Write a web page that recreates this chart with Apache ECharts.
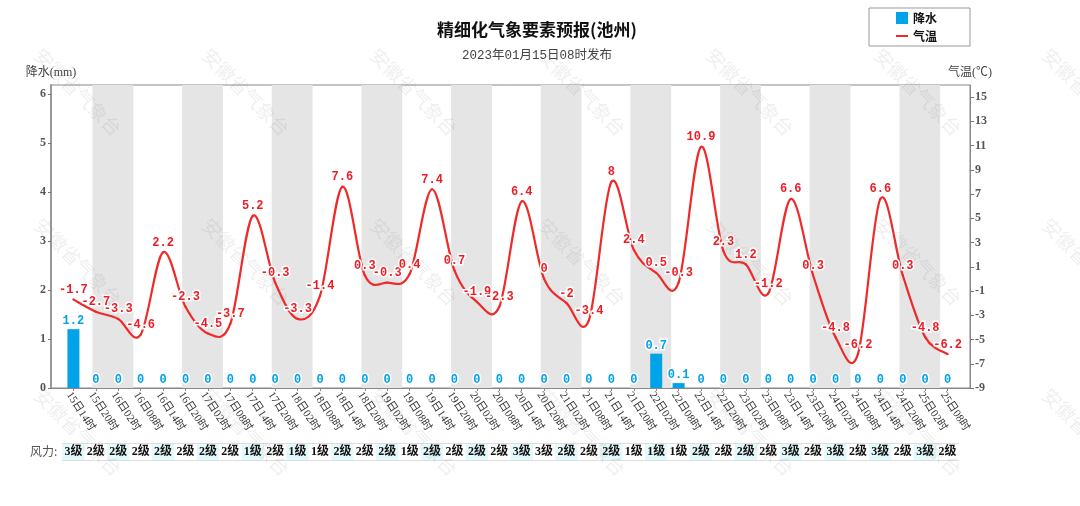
<!DOCTYPE html>
<html><head><meta charset="utf-8">
<style>html,body{margin:0;padding:0;background:#fff}#c{width:1080px;height:506px}</style>
<script src="https://cdn.jsdelivr.net/npm/echarts@6/dist/echarts.min.js"></script>
</head><body><div id="c"></div>
<script>
const categories=["15日14时","15日20时","16日02时","16日08时","16日14时","16日20时","17日02时","17日08时","17日14时","17日20时","18日02时","18日08时","18日14时","18日20时","19日02时","19日08时","19日14时","19日20时","20日02时","20日08时","20日14时","20日20时","21日02时","21日08时","21日14时","21日20时","22日02时","22日08时","22日14时","22日20时","23日02时","23日08时","23日14时","23日20时","24日02时","24日08时","24日14时","24日20时","25日02时","25日08时"];
const rain=[1.2,0,0,0,0,0,0,0,0,0,0,0,0,0,0,0,0,0,0,0,0,0,0,0,0,0,0.7,0.1,0,0,0,0,0,0,0,0,0,0,0,0];
const temp=[-1.7,-2.7,-3.3,-4.6,2.2,-2.3,-4.5,-3.7,5.2,-0.3,-3.3,-1.4,7.6,0.3,-0.3,0.4,7.4,0.7,-1.9,-2.3,6.4,0,-2,-3.4,8,2.4,0.5,-0.3,10.9,2.3,1.2,-1.2,6.6,0.3,-4.8,-6.2,6.6,0.3,-4.8,-6.2];
const wind=[3,2,2,2,2,2,2,2,1,2,1,1,2,2,2,1,2,2,2,2,3,3,2,2,2,1,1,1,2,2,2,2,3,2,3,2,3,2,3,2];
const rainTicks=[0,1,2,3,4,5,6];
const tempTicks=[-9,-7,-5,-3,-1,1,3,5,7,9,11,13,15];
const bandStarts=[0.85,4.85,8.85,12.85,16.85,20.85,24.85,28.85,32.85,36.85];
const bandWidth=1.82;
const serif='"Liberation Serif","Noto Sans CJK SC",serif';
const mono='"Liberation Mono","Noto Sans CJK SC",monospace';
const cjk='"Noto Sans CJK SC",sans-serif';
const RED='#ee2a2a';
const idx=categories.map((_,i)=>i);
const marks=[];
for(let c=0;c<7;c++)for(let r=0;r<3;r++){
  marks.push({type:'text',x:78+168*c,y:92+170*r,rotation:-Math.PI/4,silent:true,z:100,
    style:{text:'安徽省气象台',font:'19px '+cjk,fill:'rgba(110,110,110,0.11)',align:'center',verticalAlign:'middle'}});
}
marks.push({type:'text',x:30,y:451,style:{text:'风力:',font:'12px '+cjk,fill:'#555',verticalAlign:'middle'}});
// temperature curve: one bezier per interval, tangents taken from neighbouring values through the axis scale
function renderCurve(params,api){
  const i=api.value(0);
  if(i>=temp.length-1)return null;
  const clampP=k=>{const c=Math.max(0,Math.min(temp.length-1,k));return api.coord([c,temp[c]]);};
  const p0=clampP(i-1),p1=clampP(i),p2=clampP(i+1),p3=clampP(i+2);
  const k=1/6;
  return {type:'bezierCurve',silent:true,shape:{x1:p1[0],y1:p1[1],x2:p2[0],y2:p2[1],
    cpx1:p1[0]+(p2[0]-p0[0])*k,cpy1:p1[1]+(p2[1]-p0[1])*k,
    cpx2:p2[0]-(p3[0]-p1[0])*k,cpy2:p2[1]-(p3[1]-p1[1])*k},
    style:{stroke:RED,lineWidth:2.2,fill:null,lineCap:'round'}};
}
const chart=echarts.init(document.getElementById('c'));
chart.setOption({
  animation:false,
  backgroundColor:'#fff',
  title:{text:'精细化气象要素预报(池州)',subtext:'2023年01月15日08时发布',left:532,textAlign:'center',top:16,itemGap:11,
    textStyle:{fontFamily:cjk,fontSize:17,fontWeight:'bold',color:'#111'},
    subtextStyle:{fontFamily:mono,fontSize:12.5,color:'#444'}},
  legend:{left:869,top:8,orient:'vertical',itemWidth:12,itemHeight:12,itemGap:6,padding:[4,33,4,27],
    borderColor:'#999',borderWidth:1,
    textStyle:{fontFamily:cjk,fontSize:12,fontWeight:'bold',color:'#111'},
    data:[{name:'降水',icon:'rect'},{name:'气温',icon:'path://M0 0H12V2H0Z',itemStyle:{color:RED}}]},
  graphic:marks,
  grid:[{left:51,right:110,top:85,height:303,show:true,borderColor:'#888',borderWidth:1},
        {left:51,right:110,top:443,height:17}],
  xAxis:[{type:'value',gridIndex:0,min:-1,max:40,splitLine:{show:false},
      axisLine:{lineStyle:{color:'#888',width:1}},
      axisTick:{show:true,length:3,customValues:idx,lineStyle:{color:'#888'}},
      axisLabel:{customValues:idx,rotate:-57,margin:2,verticalAlign:'top',fontFamily:serif,fontSize:11,color:'#333',
        formatter:v=>categories[v]||''}},
    {type:'value',gridIndex:1,min:-1,max:40,show:false}],
  yAxis:[{type:'value',gridIndex:0,min:0,max:6.18,name:'降水(mm)',nameGap:6,nameTextStyle:{fontFamily:serif,fontSize:12,color:'#444'},
      splitLine:{show:false},axisLine:{show:true,onZero:false,lineStyle:{color:'#999',width:2}},
      axisTick:{show:true,length:3,customValues:rainTicks,lineStyle:{color:'#777'}},
      axisLabel:{customValues:rainTicks,margin:5,fontFamily:serif,fontSize:12,fontWeight:'bold',color:'#555'}},
    {type:'value',gridIndex:0,position:'right',min:-9,max:16,name:'气温(℃)',nameGap:6,nameTextStyle:{fontFamily:serif,fontSize:12,color:'#444'},
      splitLine:{show:false},axisLine:{show:true,onZero:false,lineStyle:{color:'#888',width:1}},
      axisTick:{show:true,length:4,customValues:tempTicks,lineStyle:{color:'#777'}},
      axisLabel:{customValues:tempTicks,margin:5,fontFamily:serif,fontSize:12,fontWeight:'bold',color:'#555'}},
    {type:'value',gridIndex:1,min:0,max:1,show:false}],
  series:[
   {name:'降水',type:'bar',xAxisIndex:0,yAxisIndex:0,barWidth:12,z:3,
    data:rain.map((v,i)=>[i,v]),itemStyle:{color:'#00a2e8'},
    markArea:{silent:true,itemStyle:{color:'#e5e5e5'},z:1,
      data:bandStarts.map(s=>[{xAxis:s},{xAxis:s+bandWidth}])},
    label:{show:true,position:'top',distance:2,formatter:p=>p.value[1],fontFamily:mono,fontSize:12,fontWeight:'bold',color:'#00a2e8',textBorderColor:'#fff',textBorderWidth:3}},
   {name:'气温曲线',type:'custom',xAxisIndex:0,yAxisIndex:1,z:4,silent:true,clip:false,
    data:temp.map((v,i)=>[i,v]),encode:{x:0,y:1},renderItem:renderCurve},
   {name:'气温',type:'line',xAxisIndex:0,yAxisIndex:1,symbol:'circle',symbolSize:1,showSymbol:true,showAllSymbol:true,z:5,
    data:temp.map((v,i)=>[i,v]),lineStyle:{width:0,opacity:0},itemStyle:{color:RED},
    label:{show:true,position:'top',distance:3,formatter:p=>String(p.value[1]),fontFamily:mono,fontSize:12,fontWeight:'bold',color:'#ee1c25',textBorderColor:'#fff',textBorderWidth:3}},
   {name:'风力',type:'bar',xAxisIndex:1,yAxisIndex:2,barWidth:22.4,silent:true,
    data:wind.map((w,i)=>({value:[i,1,w],itemStyle:{color:i%2?'#ffffff':'#e3f9fb'}})),
    label:{show:true,position:'inside',formatter:p=>p.value[2]+'级',fontFamily:serif,fontSize:12,fontWeight:'bold',color:'#111'},
    markLine:{silent:true,symbol:'none',label:{show:false},lineStyle:{color:'#ddd',width:1,type:'solid'},
      data:[[{coord:[-0.5,0]},{coord:[39.5,0]}],[{coord:[-0.5,1]},{coord:[39.5,1]}]]}}
  ]
});
</script></body></html>
